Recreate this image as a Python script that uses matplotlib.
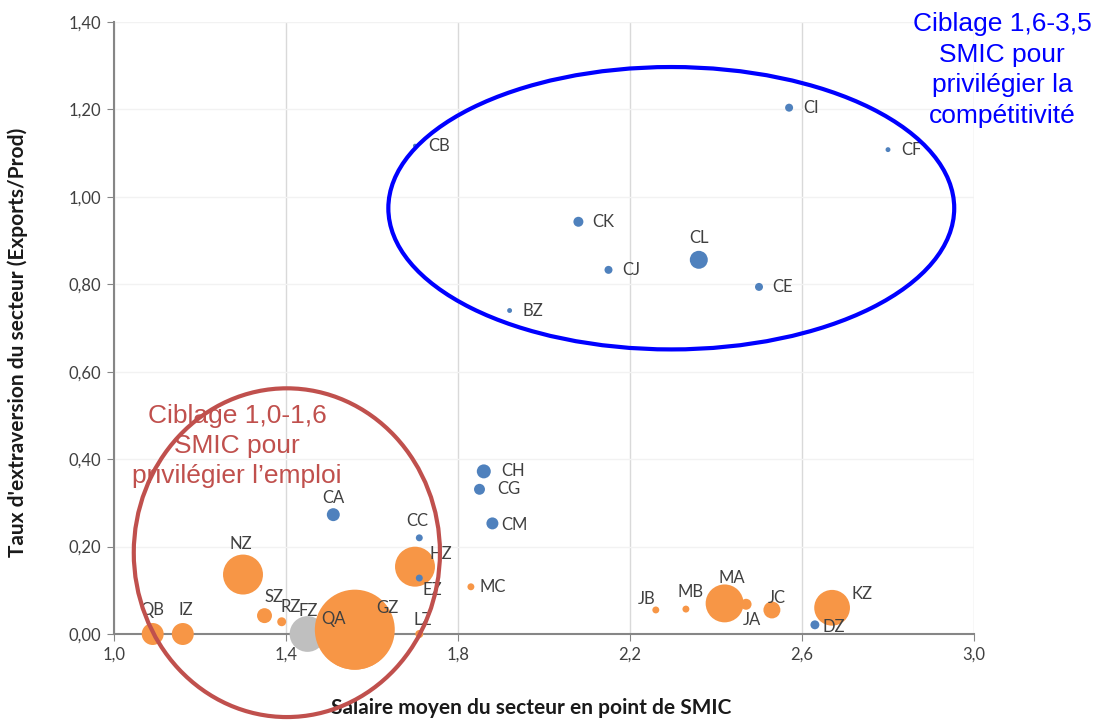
import numpy as np
import matplotlib.pyplot as plt
from matplotlib.patches import Ellipse
from matplotlib.ticker import FuncFormatter

# secteurs exportateurs (bleu)
sect_bleu = ["CB", "CI", "CF", "CK", "CJ", "CL", "CE", "BZ", "CH", "CG", "CM", "CA", "CC", "EZ", "DZ"]
sal_bleu = [1.70, 2.57, 2.80, 2.08, 2.15, 2.36, 2.50, 1.92, 1.86, 1.85, 1.88, 1.51, 1.71, 1.71, 2.63]
ext_bleu = [1.117, 1.204, 1.108, 0.943, 0.833, 0.856, 0.794, 0.740, 0.372, 0.331, 0.253, 0.273, 0.220, 0.128, 0.021]
poids_bleu = [0.4, 1.6, 0.6, 2.5, 1.6, 8.1, 1.6, 0.6, 4.9, 3.0, 3.6, 4.2, 1.2, 1.2, 2.0]

# secteurs abrites (orange)
sect_orange = ["QB", "IZ", "NZ", "SZ", "RZ", "QA", "GZ", "LZ", "HZ", "MC", "JB", "MB", "MA", "JA", "JC", "KZ"]
sal_orange = [1.09, 1.16, 1.30, 1.35, 1.39, 1.56, 1.56, 1.71, 1.70, 1.83, 2.26, 2.33, 2.42, 2.47, 2.53, 2.67]
ext_orange = [0.0, 0.0, 0.136, 0.042, 0.028, 0.005, 0.01, 0.0, 0.154, 0.108, 0.055, 0.057, 0.070, 0.068, 0.055, 0.060]
poids_orange = [12.1, 12.1, 40.0, 5.6, 2.0, 144.0, 160.0, 1.6, 40.0, 1.2, 1.2, 1.2, 36.0, 3.0, 7.2, 32.0]

# secteur FZ (gris)
sect_gris = ["FZ"]
sal_gris = [1.45]
ext_gris = [0.0]
poids_gris = [32.0]

# decalage des etiquettes (pixels)
decal = {
    "CB": (24, 0), "CI": (22, 0), "CF": (23, 0), "CK": (25, 0), "CJ": (23, 0),
    "CL": (0, -22), "CE": (24, 0), "BZ": (23, 0), "CH": (29, 0), "CG": (29, 0),
    "CM": (22, 2), "CA": (0, -17), "CC": (-2, -17), "EZ": (13, 12), "DZ": (19, 2),
    "QB": (0, -24), "IZ": (3, -24), "NZ": (-2, -31), "SZ": (9, -19), "RZ": (9, -15),
    "FZ": (1, -23), "QA": (-21, -13), "GZ": (33, -22), "LZ": (3, -14), "HZ": (26, -13),
    "MC": (22, 0), "JB": (-9, -11), "MB": (5, -17), "MA": (7, -25), "JA": (6, 16),
    "JC": (5, -12), "KZ": (30, -14),
}

W, H = 1103, 722
fig = plt.figure(figsize=(W / 100, H / 100), dpi=100)
ax = fig.add_axes([114 / W, 88 / H, 860 / W, 612 / H])

k = 20.7  # poids -> aire du marqueur (pt^2)


def bulles(x, y, p, couleur, noms):
    ordre = np.argsort(p)[::-1]
    for i in ordre:
        ax.scatter(x[i], y[i], s=p[i] * k, color=couleur, edgecolors="none",
                   zorder=3, clip_on=False)
    for i, n in enumerate(noms):
        dx, dy = decal[n]
        ax.annotate(n, (x[i], y[i]), xytext=(dx * 0.72, -dy * 0.72),
                    textcoords="offset points", ha="center", va="center",
                    fontsize=12, color="#404040", family="Lato", zorder=5)


bulles(sal_gris, ext_gris, poids_gris, "#BFBFBF", sect_gris)
bulles(sal_orange, ext_orange, poids_orange, "#F79646", sect_orange)
bulles(sal_bleu, ext_bleu, poids_bleu, "#4F81BD", sect_bleu)

# zones de ciblage
ax.add_patch(Ellipse((2.296, 0.974), 1.316, 0.646, fill=False, edgecolor="#0000FF",
                     lw=3.0, zorder=6, clip_on=False))
ax.add_patch(Ellipse((1.402, 0.186), 0.712, 0.752, fill=False, edgecolor="#C0504D",
                     lw=3.0, zorder=6, clip_on=False))

ax.set_xlim(1.0, 3.0)
ax.set_ylim(0, 1.40)
ax.set_xticks(np.arange(1.0, 3.01, 0.4))
ax.set_yticks(np.arange(0, 1.41, 0.2))
ax.xaxis.set_major_formatter(FuncFormatter(lambda v, p: f"{v:.1f}".replace(".", ",")))
ax.yaxis.set_major_formatter(FuncFormatter(lambda v, p: f"{v:.2f}".replace(".", ",")))
ax.grid(axis="x", color="#D9D9D9", lw=1.0)
ax.grid(axis="y", color="#F2F2F2", lw=1.0)
ax.set_axisbelow(True)
for s in ["top", "right"]:
    ax.spines[s].set_visible(False)
for s in ["left", "bottom"]:
    ax.spines[s].set_color("#868686")
    ax.spines[s].set_linewidth(1.5)
ax.tick_params(length=5, color="#868686", labelsize=12, labelcolor="#404040", pad=4)
for t in ax.get_xticklabels() + ax.get_yticklabels():
    t.set_family("Lato")

ax.set_xlabel("Salaire moyen du secteur en point de SMIC", fontsize=15,
              fontweight="bold", family="Lato", color="#1a1a1a", va="center")
ax.set_ylabel("Taux d'extraversion du secteur (Exports/Prod)", fontsize=15,
              fontweight="bold", family="Lato", color="#1a1a1a", va="center")
ax.xaxis.set_label_coords(0.485, -0.121)
ax.yaxis.set_label_coords(-0.112, 0.477)

fig.text(1002 / W, 1 - 70 / H, "Ciblage 1,6-3,5\nSMIC pour\nprivilégier la\ncompétitivité",
         ha="center", va="center", fontsize=19, color="#0000FF",
         family="Liberation Sans", linespacing=1.34, multialignment="center")
fig.text(237 / W, 1 - 446 / H, "Ciblage 1,0-1,6\nSMIC pour\nprivilégier l’emploi",
         ha="center", va="center", fontsize=19, color="#C0504D",
         family="Liberation Sans", linespacing=1.3, multialignment="center")

fig.savefig("out.png", dpi=100)
